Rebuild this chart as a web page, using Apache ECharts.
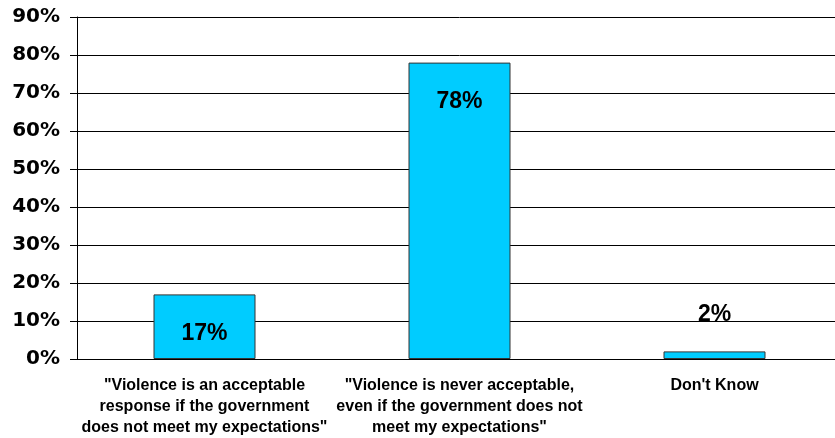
<!DOCTYPE html>
<html>
<head>
<meta charset="UTF-8">
<title>Violence acceptable</title>
<style>
  html, body { margin: 0; padding: 0; background: #fff; overflow: hidden; }
  #main { width: 842px; height: 438px; }
</style>
</head>
<body>
<div id="main"></div>
<script src="https://cdn.jsdelivr.net/npm/echarts@6/dist/echarts.min.js"></script>
<script>
var categories = [
  '"Violence is an acceptable\nresponse if the government\ndoes not meet my expectations"',
  '"Violence is never acceptable,\neven if the government does not\nmeet my expectations"',
  "Don't Know"
];
var values = [17, 78, 2];
var yTicks = [0, 10, 20, 30, 40, 50, 60, 70, 80, 90];

var chart = echarts.init(document.getElementById('main'));

var font = 'Liberation Sans, Arial, sans-serif';

chart.setOption({
  animation: false,
  grid: { left: 77, top: 17, right: 0, bottom: 71 },
  xAxis: {
    type: 'category',
    data: categories,
    axisLine: { lineStyle: { color: '#000', width: 1 } },
    axisTick: { show: false },
    axisLabel: {
      color: '#000', fontFamily: font, fontWeight: 'bold', fontSize: 16,
      lineHeight: 21, margin: 16, interval: 0
    }
  },
  yAxis: {
    type: 'value',
    min: yTicks[0],
    max: yTicks[yTicks.length - 1],
    interval: 10,
    axisLine: { show: true, lineStyle: { color: '#000', width: 1 } },
    axisTick: { show: true, length: 7, lineStyle: { color: '#000' } },
    axisLabel: {
      formatter: '{value}%', color: '#000', fontFamily: 'DejaVu Sans',
      fontWeight: 'bold', fontSize: 20, margin: 17
    },
    splitLine: { lineStyle: { color: '#000', width: 1 } }
  },
  series: [{
    type: 'bar',
    barWidth: 102,
    data: values.map(function (v) {
      return {
        value: v,
        label: {
          position: v < 10 ? 'top' : 'insideTop',
          distance: v < 10 ? 25 : 28
        }
      };
    }),
    itemStyle: { color: '#00CCFF', borderColor: '#333', borderWidth: 1 },
    label: {
      show: true, formatter: '{c}%', color: '#000',
      fontFamily: font, fontWeight: 'bold', fontSize: 23
    }
  }]
});
</script>
</body>
</html>
